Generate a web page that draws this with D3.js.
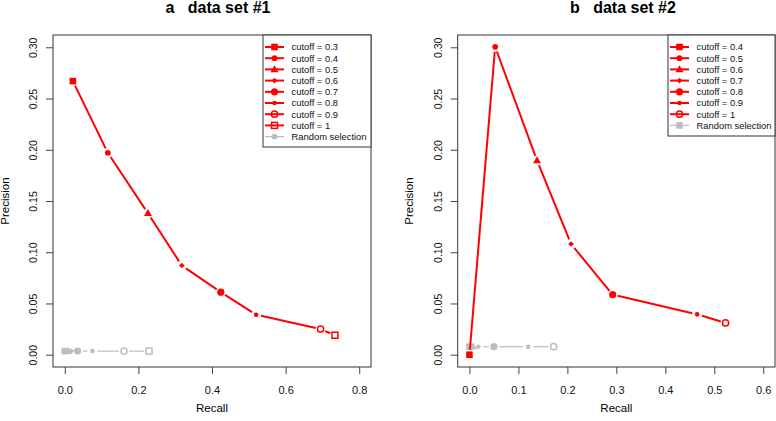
<!DOCTYPE html>
<html><head><meta charset="utf-8">
<script src="https://cdn.jsdelivr.net/npm/d3@7"></script>
<style>body{margin:0;background:#fff}svg{display:block;font-family:"Liberation Sans",Arial,Helvetica,sans-serif}</style>
</head><body>
<svg id="c" width="776" height="421"></svg>
<script>
// ---- data ----
const cutoffsA = ["0.3","0.4","0.5","0.6","0.7","0.8","0.9","1"];
const recallA = [0.022, 0.117, 0.226, 0.318, 0.424, 0.520, 0.695, 0.734];
const precisionA = [0.267, 0.197, 0.138, 0.087, 0.061, 0.039, 0.025, 0.019];
const randRecallA = [0.0, 0.005, 0.010, 0.018, 0.035, 0.075, 0.161, 0.229];
const randPrecisionA = [0.0035, 0.0035, 0.0035, 0.0035, 0.0035, 0.0035, 0.0035, 0.0035];

const cutoffsB = ["0.4","0.5","0.6","0.7","0.8","0.9","1"];
const recallB = [0.0, 0.0525, 0.138, 0.2075, 0.2925, 0.465, 0.523];
const precisionB = [0.0, 0.3005, 0.1895, 0.108, 0.0586, 0.0394, 0.031];
const randRecallB = [0.0, 0.003, 0.007, 0.018, 0.050, 0.120, 0.172];
const randPrecisionB = [0.0078, 0.0078, 0.0078, 0.0078, 0.0078, 0.0078, 0.0078];

const xTicksA = [0, 0.2, 0.4, 0.6, 0.8];
const xTicksB = [0, 0.1, 0.2, 0.3, 0.4, 0.5, 0.6];
const yTicks = [0, 0.05, 0.10, 0.15, 0.20, 0.25, 0.30];

const svg = d3.select("#c");
const RED = "#f00", GREY = "#bdbdbd";

function marker(g, pch, x, y, color) {
  const s = 15 + 0;
  switch (pch) {
    case 15: g.append("rect").attr("x", x-3.3).attr("y", y-3.3).attr("width", 6.6).attr("height", 6.6).attr("fill", color); break;
    case 16: g.append("circle").attr("cx", x).attr("cy", y).attr("r", 2.9).attr("fill", color); break;
    case 17: g.append("path").attr("d", `M${x},${y-4.2}L${x+4},${y+2.8}L${x-4},${y+2.8}Z`).attr("fill", color); break;
    case 18: g.append("path").attr("d", `M${x},${y-2.8}L${x+2.8},${y}L${x},${y+2.8}L${x-2.8},${y}Z`).attr("fill", color); break;
    case 19: g.append("circle").attr("cx", x).attr("cy", y).attr("r", 3.6).attr("fill", color); break;
    case 20: g.append("circle").attr("cx", x).attr("cy", y).attr("r", 2.3).attr("fill", color); break;
    case 21: g.append("circle").attr("cx", x).attr("cy", y).attr("r", 3.1).attr("fill", "none").attr("stroke", color).attr("stroke-width", 1.5); break;
    case 22: g.append("rect").attr("x", x-3).attr("y", y-3).attr("width", 6).attr("height", 6).attr("fill", "none").attr("stroke", color).attr("stroke-width", 1.5); break;
  }
}

function series(g, xs, ys, sx, sy, color, lw) {
  const pts = xs.map((v, i) => [sx(v), sy(ys[i])]);
  const gap = 5;
  for (let i = 0; i < pts.length - 1; i++) {
    const [x1, y1] = pts[i], [x2, y2] = pts[i+1];
    const d = Math.hypot(x2-x1, y2-y1);
    if (d <= 2*gap + 1) continue;
    const ux = (x2-x1)/d, uy = (y2-y1)/d;
    g.append("line").attr("x1", x1+ux*gap).attr("y1", y1+uy*gap)
      .attr("x2", x2-ux*gap).attr("y2", y2-uy*gap)
      .attr("stroke", color).attr("stroke-width", lw);
  }
  pts.forEach((p, i) => marker(g, 15 + i, p[0], p[1], color));
}

function panel(o) {
  const x = d3.scaleLinear().domain(o.xdom).range([o.left, o.right]);
  const y = d3.scaleLinear().domain([-0.012, 0.312]).range([o.bottom, o.top]);
  const g = svg.append("g");

  const ax = g.append("g").attr("transform", `translate(0,${o.bottom})`)
    .call(d3.axisBottom(x).tickValues(o.xticks).tickFormat(d3.format(".1f")).tickSize(7).tickSizeOuter(0).tickPadding(12));
  ax.select(".domain").remove();
  ax.selectAll("line").attr("stroke", "#444");
  ax.selectAll("text").attr("font-size", 11).attr("fill", "#111").attr("font-family", null);

  const ay = g.append("g").attr("transform", `translate(${o.left},0)`)
    .call(d3.axisLeft(y).tickValues(yTicks).tickFormat(d3.format(".2f")).tickSize(7).tickSizeOuter(0));
  ay.select(".domain").remove();
  ay.selectAll("line").attr("stroke", "#444");
  ay.selectAll("text").attr("font-size", 10.5).attr("fill", "#111").attr("font-family", null)
    .attr("x", 0).attr("dy", 0).attr("text-anchor", "middle").attr("transform", "translate(-16,0) rotate(-90)");

  g.append("rect").attr("x", o.left).attr("y", o.top).attr("width", o.right - o.left).attr("height", o.bottom - o.top)
    .attr("fill", "none").attr("stroke", "#333").attr("stroke-width", 1);

  series(g, o.rx, o.ry, x, y, GREY, 1.2);
  series(g, o.xs, o.ys, x, y, RED, 2);

  // legend
  const lg = g.append("g");
  lg.append("rect").attr("x", o.legX).attr("y", o.top).attr("width", o.right - o.legX).attr("height", o.legBottom - o.top)
    .attr("fill", "#fff").attr("stroke", "#333").attr("stroke-width", 1);
  const labels = o.cutoffs.map(c => "cutoff = " + c).concat(["Random selection"]);
  labels.forEach((t, i) => {
    const yy = o.top + 12 + i * 11.2;
    const isR = i === labels.length - 1;
    const col = isR ? GREY : RED;
    lg.append("line").attr("x1", o.legX + 2).attr("x2", o.legX + 21).attr("y1", yy).attr("y2", yy)
      .attr("stroke", col).attr("stroke-width", isR ? 1.2 : 2);
    marker(lg, isR ? o.randPch : 15 + i, o.legX + 11.5, yy, col);
    lg.append("text").attr("x", o.legX + 28.5).attr("y", yy + 3.3).attr("font-size", 9.4).attr("fill", "#111").text(t);
  });

  g.append("text").attr("x", o.titleX).attr("y", 13).attr("text-anchor", "middle").attr("font-size", 16)
    .attr("font-weight", "bold").style("white-space", "pre").text(o.title);
  g.append("text").attr("x", (o.left + o.right) / 2).attr("y", 412).attr("text-anchor", "middle").attr("font-size", 11.5).text("Recall");
  g.append("text").attr("transform", `translate(${o.ylabX},${(o.top + o.bottom) / 2}) rotate(-90)`)
    .attr("text-anchor", "middle").attr("font-size", 11.5).text("Precision");
}

panel({left: 53, right: 371, top: 35, bottom: 367, xdom: [-0.032, 0.832], xticks: xTicksA,
  xs: recallA, ys: precisionA, rx: randRecallA, ry: randPrecisionA, cutoffs: cutoffsA,
  legX: 263, legBottom: 147, randPch: 16, title: "a   data set #1", titleX: 218, ylabX: 9});
panel({left: 457.7, right: 775, top: 35, bottom: 367, xdom: [-0.024, 0.624], xticks: xTicksB,
  xs: recallB, ys: precisionB, rx: randRecallB, ry: randPrecisionB, cutoffs: cutoffsB,
  legX: 668, legBottom: 136, randPch: 15, title: "b   data set #2", titleX: 623, ylabX: 413});
</script>
</body></html>
